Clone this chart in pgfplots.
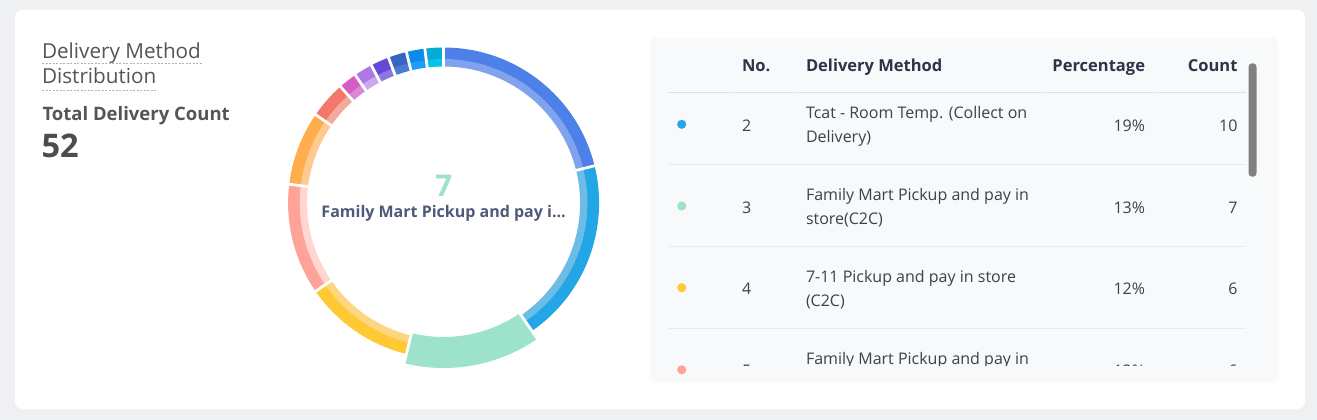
\documentclass[border=0pt]{standalone}
\usepackage{pgfplots}
\pgfplotsset{compat=1.18}
\usepackage{pgfplotstable}
\usepackage{fontspec}
\setmainfont{Open Sans}
\definecolor{bg}{HTML}{EFF0F2}
\definecolor{panel}{HTML}{F8F9FA}
\definecolor{titlegray}{HTML}{555555}
\definecolor{hdr}{HTML}{2D3447}
\definecolor{rowtxt}{HTML}{3D414B}
\definecolor{hline}{HTML}{D3E3F3}
\definecolor{rline}{HTML}{E7EAEF}
\definecolor{slate}{HTML}{4F5A7A}
\definecolor{p1d}{HTML}{4D80E8}\definecolor{p1l}{HTML}{7FA3EC}
\definecolor{p2d}{HTML}{23A6E6}\definecolor{p2l}{HTML}{6CBCE6}
\definecolor{p3d}{HTML}{9DE3CB}
\definecolor{p4d}{HTML}{FFC933}\definecolor{p4l}{HTML}{FDD77F}
\definecolor{p5d}{HTML}{FFA398}\definecolor{p5l}{HTML}{FFD6D1}
\definecolor{p6d}{HTML}{FFAD4D}\definecolor{p6l}{HTML}{FFCA8F}
\definecolor{p7d}{HTML}{F4776A}\definecolor{p7l}{HTML}{F2A99F}
\definecolor{p8d}{HTML}{D75DC6}\definecolor{p8l}{HTML}{DC87D1}
\definecolor{p9d}{HTML}{AE77E6}\definecolor{p9l}{HTML}{CBA8EE}
\definecolor{p10d}{HTML}{6747D9}\definecolor{p10l}{HTML}{8E76DF}
\definecolor{p11d}{HTML}{3566C1}\definecolor{p11l}{HTML}{4A7CD2}
\definecolor{p12d}{HTML}{0B8BEC}\definecolor{p12l}{HTML}{1F9EF4}
\definecolor{p13d}{HTML}{07ACD6}\definecolor{p13l}{HTML}{07C2E9}
\pgfplotstableread{
cnt dk lt
11 p1d p1l
10 p2d p2l
7 p3d p3d
6 p4d p4l
6 p5d p5l
4 p6d p6l
2 p7d p7l
1 p8d p8l
1 p9d p9l
1 p10d p10l
1 p11d p11l
1 p12d p12l
1 p13d p13l
}\pietable
\def\cx{443.6}\def\cy{203}
% build donut drawing commands from the table (y axis is reversed, so angles run clockwise from the top)
\def\piecmds{}
\def\piesep{}
\def\piehl{}
\def\cum{0}
\pgfplotsforeachungrouped \i in {0,...,12}{%
  \pgfplotstablegetelem{\i}{cnt}\of\pietable \let\cnt=\pgfplotsretval
  \pgfplotstablegetelem{\i}{dk}\of\pietable \let\dk=\pgfplotsretval
  \pgfplotstablegetelem{\i}{lt}\of\pietable \let\lt=\pgfplotsretval
  \pgfmathsetmacro\aS{\cum/52*360-90}%
  \pgfmathsetmacro\cumn{\cum+\cnt}%
  \pgfmathsetmacro\aE{\cumn/52*360-90}%
  \ifnum\i=2
    \xdef\piehl{\noexpand\fill[\dk] ([shift={(\aS:165)}]axis cs:\cx,\cy) arc[start angle=\aS,end angle=\aE,radius=165] -- ([shift={(\aE:134)}]axis cs:\cx,\cy) arc[start angle=\aE,end angle=\aS,radius=134] -- cycle;}%
  \else
    \xdef\piecmds{\unexpanded\expandafter{\piecmds}\noexpand\fill[\dk] ([shift={(\aS:155.5)}]axis cs:\cx,\cy) arc[start angle=\aS,end angle=\aE,radius=155.5] -- ([shift={(\aE:143.5)}]axis cs:\cx,\cy) arc[start angle=\aE,end angle=\aS,radius=143.5] -- cycle;
    \noexpand\fill[\lt] ([shift={(\aS:143.8)}]axis cs:\cx,\cy) arc[start angle=\aS,end angle=\aE,radius=143.8] -- ([shift={(\aE:136.5)}]axis cs:\cx,\cy) arc[start angle=\aE,end angle=\aS,radius=136.5] -- cycle;}%
  \fi
  \xdef\piesep{\unexpanded\expandafter{\piesep}\noexpand\draw[white,line width=2.8pt] ([shift={(\aS:128)}]axis cs:\cx,\cy) -- ([shift={(\aS:170)}]axis cs:\cx,\cy);}%
  \global\let\cum\cumn
}
\begin{document}
\begin{tikzpicture}[every node/.style={inner sep=0pt,outer sep=0pt}]
\begin{axis}[x=1pt,y=1pt,xmin=0,xmax=1317,ymin=0,ymax=420,y dir=reverse,
  hide axis,clip=false]
% backgrounds
\fill[bg] (axis cs:0,0) rectangle (axis cs:1317,420);
\fill[white,rounded corners=7pt] (axis cs:15,10) rectangle (axis cs:1305,409);
\fill[panel,rounded corners=5pt] (axis cs:650,38) rectangle (axis cs:1278,381.7);
% donut
\piecmds
\piehl
\piesep
\node[inner sep=0pt,anchor=base,font=\bfseries\fontsize{30}{34}\selectfont,text=p3d] at (axis cs:\cx,196.7) {7};
\node[inner sep=0pt,anchor=base,font=\bfseries\fontsize{16}{19}\selectfont,text=slate] at (axis cs:\cx,217.3) {Family Mart Pickup and pay i...};
% left texts
\node[inner sep=0pt,anchor=base west,font=\fontsize{20.7}{25}\selectfont,text=titlegray] at (axis cs:42,58.3) {Delivery Method};
\node[inner sep=0pt,anchor=base west,font=\fontsize{20.7}{25}\selectfont,text=titlegray] at (axis cs:42,83.3) {Distribution};
\draw[gray!60,line width=0.8pt,dash pattern=on 2pt off 1.5pt] (axis cs:42,63.5) -- (axis cs:202,63.5);
\draw[gray!60,line width=0.8pt,dash pattern=on 2pt off 1.5pt] (axis cs:42,90.7) -- (axis cs:157,90.7);
\node[inner sep=0pt,anchor=base west,font=\bfseries\fontsize{18.5}{22}\selectfont,text=titlegray] at (axis cs:42.5,120.7) {Total Delivery Count};
\node[inner sep=0pt,anchor=base west,font=\bfseries\fontsize{32.5}{36}\selectfont,text=titlegray!90!black] at (axis cs:41.5,157.7) {52};
% table header
\begin{scope}[every node/.append style={inner sep=0pt,font=\bfseries\fontsize{16.5}{20}\selectfont,text=hdr}]
\node[anchor=base west] at (axis cs:742,71.3) {No.};
\node[anchor=base west] at (axis cs:806,71.3) {Delivery Method};
\node[anchor=base east] at (axis cs:1145,71.3) {Percentage};
\node[anchor=base east] at (axis cs:1237.5,71.3) {Count};
\end{scope}
\draw[hline,line width=1pt] (axis cs:668,92.3) -- (axis cs:731.5,92.3);
\draw[hline,line width=1pt] (axis cs:733,92.3) -- (axis cs:795.5,92.3);
\draw[hline,line width=1pt] (axis cs:797,92.3) -- (axis cs:1043.5,92.3);
\draw[hline,line width=1pt] (axis cs:1045,92.3) -- (axis cs:1153.5,92.3);
\draw[hline,line width=1pt] (axis cs:1155,92.3) -- (axis cs:1246,92.3);
\draw[rline,line width=1pt] (axis cs:668,164.5) -- (axis cs:1246,164.5);
\draw[rline,line width=1pt] (axis cs:668,246.3) -- (axis cs:1246,246.3);
\draw[rline,line width=1pt] (axis cs:668,328.2) -- (axis cs:1246,328.2);
% rows
\begin{scope}[every node/.append style={inner sep=0pt,font=\fontsize{16}{20}\selectfont,text=rowtxt}]
\node[anchor=base west] at (axis cs:742,131.3) {2};
\node[anchor=base west] at (axis cs:806,118) {Tcat - Room Temp. (Collect on};
\node[anchor=base west] at (axis cs:806,142.7) {Delivery)};
\node[anchor=base east] at (axis cs:1145,131.3) {19\%};
\node[anchor=base east] at (axis cs:1237.5,131.3) {10};
\node[anchor=base west] at (axis cs:742,213) {3};
\node[anchor=base west] at (axis cs:806,200.7) {Family Mart Pickup and pay in};
\node[anchor=base west] at (axis cs:806,224.3) {store(C2C)};
\node[anchor=base east] at (axis cs:1145,213) {13\%};
\node[anchor=base east] at (axis cs:1237.5,213) {7};
\node[anchor=base west] at (axis cs:742,294) {4};
\node[anchor=base west] at (axis cs:806,282.3) {7-11 Pickup and pay in store};
\node[anchor=base west] at (axis cs:806,306.3) {(C2C)};
\node[anchor=base east] at (axis cs:1145,294) {12\%};
\node[anchor=base east] at (axis cs:1237.5,294) {6};
\node[anchor=base west] at (axis cs:742,376) {5};
\node[anchor=base west] at (axis cs:806,364) {Family Mart Pickup and pay in};
\node[anchor=base east] at (axis cs:1145,376) {12\%};
\node[anchor=base east] at (axis cs:1237.5,376) {6};
\end{scope}
\addplot[only marks,mark=*,mark size=4.3pt,p2d] coordinates {(681.7,124.3)};
\addplot[only marks,mark=*,mark size=4.3pt,p3d] coordinates {(681.7,206)};
\addplot[only marks,mark=*,mark size=4.3pt,p4d] coordinates {(681.7,287.7)};
\addplot[only marks,mark=*,mark size=4.3pt,p5d] coordinates {(681.7,369.8)};
% cover below visible table body
\fill[panel] (axis cs:651,368.3) rectangle (axis cs:1277,376.7);
\fill[panel,rounded corners=5pt] (axis cs:650,366) rectangle (axis cs:1278,381.7);
% scrollbar
\fill[black!50,rounded corners=3.5pt] (axis cs:1248.5,63.3) rectangle (axis cs:1256.5,176.7);
\end{axis}
\end{tikzpicture}
\end{document}
